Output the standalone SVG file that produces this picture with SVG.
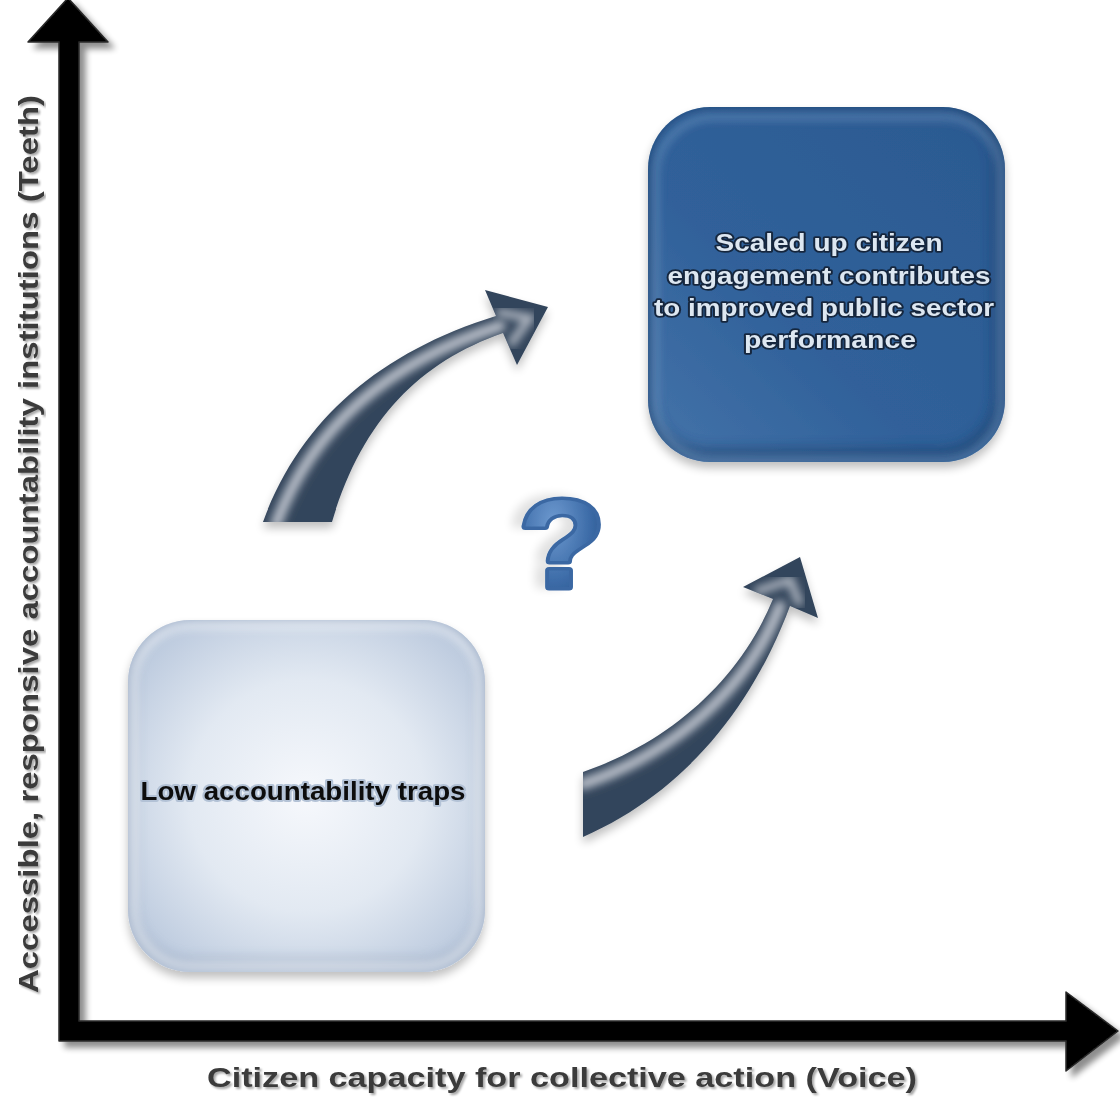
<svg xmlns="http://www.w3.org/2000/svg" width="1120" height="1099" viewBox="0 0 1120 1099">
<defs>
<style>
.lbl{font-family:"Liberation Sans",Arial,sans-serif;font-weight:bold;}
.axislbl{font-size:28px;fill:#3b3b3b;}
.bluetxt{font-size:24px;fill:#dde7f1;stroke:#14263e;stroke-width:3.5px;paint-order:stroke;stroke-linejoin:round;text-anchor:middle;}
.lighttxt{font-size:25px;fill:#111;stroke:#b3c2d6;stroke-width:4px;paint-order:stroke;stroke-linejoin:round;text-anchor:middle;}
.arrowfill{fill:#33455b;}
.arrowhl{fill:none;stroke:#b9bfc9;stroke-width:11;stroke-linecap:round;}
</style>
<filter id="shadow" x="-10%" y="-10%" width="130%" height="130%">
<feGaussianBlur in="SourceAlpha" stdDeviation="3"/>
<feOffset dx="6" dy="6" result="o"/>
<feComponentTransfer><feFuncA type="linear" slope="0.45"/></feComponentTransfer>
<feMerge><feMergeNode/><feMergeNode in="SourceGraphic"/></feMerge>
</filter>
<filter id="boxshadow" x="-10%" y="-10%" width="130%" height="130%">
<feGaussianBlur in="SourceAlpha" stdDeviation="5"/>
<feOffset dx="0" dy="6"/>
<feComponentTransfer><feFuncA type="linear" slope="0.25"/></feComponentTransfer>
<feMerge><feMergeNode/><feMergeNode in="SourceGraphic"/></feMerge>
</filter>
<filter id="qshadow" x="-40%" y="-20%" width="180%" height="140%">
<feGaussianBlur in="SourceAlpha" stdDeviation="5"/>
<feOffset dx="-10" dy="-2"/>
<feComponentTransfer><feFuncA type="linear" slope="0.12"/></feComponentTransfer>
<feMerge><feMergeNode/><feMergeNode in="SourceGraphic"/></feMerge>
</filter>
<filter id="txtshadow" x="-5%" y="-30%" width="110%" height="160%">
<feGaussianBlur in="SourceAlpha" stdDeviation="1.2"/>
<feOffset dx="1.5" dy="1.5"/>
<feComponentTransfer><feFuncA type="linear" slope="0.35"/></feComponentTransfer>
<feMerge><feMergeNode/><feMergeNode in="SourceGraphic"/></feMerge>
</filter>
<filter id="blur4"><feGaussianBlur stdDeviation="4"/></filter>
<filter id="blur7"><feGaussianBlur stdDeviation="7"/></filter>
<radialGradient id="lightGrad" cx="0.5" cy="0.5" r="0.6">
<stop offset="0" stop-color="#f6f8fc"/>
<stop offset="0.55" stop-color="#e2e9f2"/>
<stop offset="1" stop-color="#bccade"/>
</radialGradient>
<linearGradient id="blueGrad" x1="1" y1="0" x2="0" y2="1">
<stop offset="0" stop-color="#2b5990"/>
<stop offset="0.6" stop-color="#30619a"/>
<stop offset="1" stop-color="#4574aa"/>
</linearGradient>
<radialGradient id="qGrad" cx="0.4" cy="0.35" r="0.7">
<stop offset="0" stop-color="#6e9ad0"/>
<stop offset="0.6" stop-color="#3d6ca8"/>
<stop offset="1" stop-color="#244f86"/>
</radialGradient>
<clipPath id="clipLight"><rect x="128" y="620" width="357" height="352" rx="62"/></clipPath>
<clipPath id="clipBlue"><rect x="648" y="107" width="357" height="355" rx="62"/></clipPath>
<clipPath id="clipA1"><path d="M263,522 C300,420 380,352 496,316 L485,290 L548,307 L517,365 L503,333 C420,362 362,420 332,522 Z"/></clipPath>
<clipPath id="clipA2"><path d="M583,772 C670,742 740,680 773,599 L743,587 L800,557 L818,618 L790,606 C755,700 690,790 583,837 Z"/></clipPath>
</defs>
<rect width="1120" height="1099" fill="#ffffff"/>

<g id="axes" filter="url(#shadow)">
<path d="M59,42 L28,42 L68,-2 L108,42 L79,42 L79,1021 L1066,1021 L1066,992 L1118,1031 L1066,1071 L1066,1041 L59,1041 Z" fill="#050505" stroke="#2a2a2a" stroke-width="1.5" stroke-linejoin="round"/>
</g>

<g id="label-y" class="lbl" filter="url(#txtshadow)">
<text class="axislbl" transform="translate(38,544) rotate(-90)" text-anchor="middle" textLength="898" lengthAdjust="spacingAndGlyphs">Accessible, responsive accountability institutions (Teeth)</text>
</g>
<g id="label-x" class="lbl" filter="url(#txtshadow)">
<text class="axislbl" x="562" y="1087" text-anchor="middle" textLength="710" lengthAdjust="spacingAndGlyphs">Citizen capacity for collective action (Voice)</text>
</g>

<g id="node-low" filter="url(#boxshadow)">
<rect x="128" y="620" width="357" height="352" rx="62" fill="url(#lightGrad)"/>
<g clip-path="url(#clipLight)">
<rect x="128" y="620" width="357" height="352" rx="62" fill="none" stroke="#7f91ab" stroke-width="10" opacity="0.55" filter="url(#blur7)" transform="translate(0,-6)"/>
<rect x="134" y="626" width="345" height="340" rx="58" fill="none" stroke="#ffffff" stroke-width="6" opacity="0.6" filter="url(#blur4)"/>
</g>
<text class="lbl lighttxt" x="303" y="800" textLength="325" lengthAdjust="spacingAndGlyphs">Low accountability traps</text>
</g>

<g id="node-scaled" filter="url(#boxshadow)">
<rect x="648" y="107" width="357" height="355" rx="62" fill="url(#blueGrad)"/>
<g clip-path="url(#clipBlue)">
<rect x="648" y="107" width="357" height="355" rx="62" fill="none" stroke="#1c3d66" stroke-width="12" opacity="0.7" filter="url(#blur7)" transform="translate(-4,-6)"/>
<rect x="654" y="113" width="345" height="343" rx="58" fill="none" stroke="#8fb0d6" stroke-width="6" opacity="0.45" filter="url(#blur4)" transform="translate(2,4)"/>
</g>
<text class="lbl bluetxt" x="829" y="251" textLength="227" lengthAdjust="spacingAndGlyphs">Scaled up citizen</text>
<text class="lbl bluetxt" x="829" y="284" textLength="323" lengthAdjust="spacingAndGlyphs">engagement contributes</text>
<text class="lbl bluetxt" x="824" y="316" textLength="340" lengthAdjust="spacingAndGlyphs">to improved public sector</text>
<text class="lbl bluetxt" x="830" y="348" textLength="172" lengthAdjust="spacingAndGlyphs">performance</text>
</g>

<g id="question" filter="url(#qshadow)">
<text class="lbl" x="562" y="587" font-size="124" text-anchor="middle" fill="url(#qGrad)" stroke="#3a68a3" stroke-width="7" stroke-linejoin="round" paint-order="stroke" textLength="86" lengthAdjust="spacingAndGlyphs">?</text>
</g>

<g id="connectors">
<g id="arrow-up" filter="url(#boxshadow)">
<path class="arrowfill" d="M263,522 C300,420 380,352 496,316 L485,290 L548,307 L517,365 L503,333 C420,362 362,420 332,522 Z"/>
<g clip-path="url(#clipA1)">
<path class="arrowhl" d="M276,524 C312,428 388,362 500,326" filter="url(#blur4)"/>
<path d="M497,312 L530,318 L510,345" fill="none" stroke="#aeb5c0" stroke-width="8" filter="url(#blur4)"/>
</g>
</g>
<g id="arrow-right" filter="url(#boxshadow)">
<path class="arrowfill" d="M583,772 C670,742 740,680 773,599 L743,587 L800,557 L818,618 L790,606 C755,700 690,790 583,837 Z"/>
<g clip-path="url(#clipA2)">
<path class="arrowhl" d="M583,784 C672,754 747,690 780,606" filter="url(#blur4)"/>
<path d="M755,592 L790,580 L800,605" fill="none" stroke="#aeb5c0" stroke-width="8" filter="url(#blur4)"/>
</g>
</g>
</g>
</svg>
